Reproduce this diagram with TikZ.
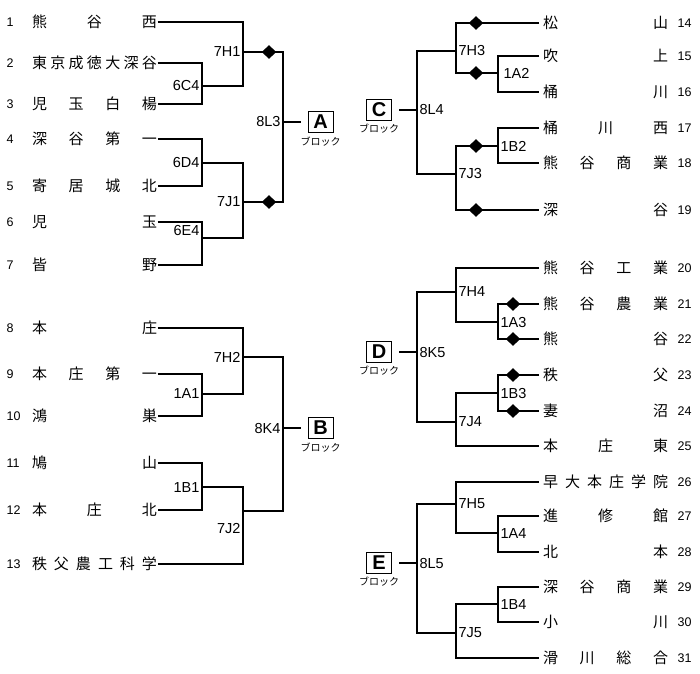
\documentclass[tikz,border=0pt]{standalone}
\usepackage{fontspec}
\setmainfont{Liberation Sans}
\newfontfamily\jpfont{Noto Sans CJK JP}
\usetikzlibrary{shapes.geometric,positioning}
\newcommand{\spreadname}[1]{\makebox[125pt]{\spreadchars#1\relax}}
\def\spreadchars#1#2{#1\ifx\relax#2\else\hfill\expandafter\spreadchars\expandafter#2\fi}

\begin{document}
\begin{tikzpicture}[x=1pt, y=-1pt, line width=1.1pt,
    team/.style={font=\jpfont\fontsize{15}{15}\selectfont, inner sep=0pt},
    rteam/.style={team, outer xsep=4pt},
    num/.style={font=\fontsize{12.5}{12.5}\selectfont, inner sep=0pt, anchor=west},
    lab/.style={font=\fontsize{14.5}{14.5}\selectfont, inner sep=2pt},
    blk/.style={draw, line width=1pt, font=\bfseries\fontsize{20}{20}\selectfont, minimum width=25pt, minimum height=21pt, inner sep=0pt},
    kana/.style={font=\jpfont\fontsize{10}{10}\selectfont, inner sep=0pt},
    dia/.style={diamond, fill=black, inner sep=0pt, minimum width=15pt, minimum height=14pt},
    toblk/.style={shorten >=7pt}]
    \useasboundingbox (0,0) rectangle (700,673);

    % Left teams
    \node[num] (n1) at (6,22) {1};    \node[team] (t1) at (94.5,22) {\spreadname{熊谷西}};
    \node[num] (n2) at (6,63) {2};    \node[team] (t2) at (94.5,63) {\spreadname{東京成徳大深谷}};
    \node[num] (n3) at (6,104) {3};   \node[team] (t3) at (94.5,104) {\spreadname{児玉白楊}};
    \node[num] (n4) at (6,139) {4};   \node[team] (t4) at (94.5,139) {\spreadname{深谷第一}};
    \node[num] (n5) at (6,186) {5};   \node[team] (t5) at (94.5,186) {\spreadname{寄居城北}};
    \node[num] (n6) at (6,222) {6};   \node[team] (t6) at (94.5,222) {\spreadname{児玉}};
    \node[num] (n7) at (6,265) {7};   \node[team] (t7) at (94.5,265) {\spreadname{皆野}};
    \node[num] (n8) at (6,328) {8};   \node[team] (t8) at (94.5,328) {\spreadname{本庄}};
    \node[num] (n9) at (6,374) {9};   \node[team] (t9) at (94.5,374) {\spreadname{本庄第一}};
    \node[num] (n10) at (6,416) {10}; \node[team] (t10) at (94.5,416) {\spreadname{鴻巣}};
    \node[num] (n11) at (6,463) {11}; \node[team] (t11) at (94.5,463) {\spreadname{鳩山}};
    \node[num] (n12) at (6,510) {12}; \node[team] (t12) at (94.5,510) {\spreadname{本庄北}};
    \node[num] (n13) at (6,564) {13}; \node[team] (t13) at (94.5,564) {\spreadname{秩父農工科学}};

    % Right teams
    \node[rteam] (t14) at (605.5,23) {\spreadname{松山}};        \node[num] (n14) at (677,23) {14};
    \node[rteam] (t15) at (605.5,56) {\spreadname{吹上}};        \node[num] (n15) at (677,56) {15};
    \node[rteam] (t16) at (605.5,92) {\spreadname{桶川}};        \node[num] (n16) at (677,92) {16};
    \node[rteam] (t17) at (605.5,128) {\spreadname{桶川西}};     \node[num] (n17) at (677,128) {17};
    \node[rteam] (t18) at (605.5,163) {\spreadname{熊谷商業}};   \node[num] (n18) at (677,163) {18};
    \node[rteam] (t19) at (605.5,210) {\spreadname{深谷}};       \node[num] (n19) at (677,210) {19};
    \node[rteam] (t20) at (605.5,268) {\spreadname{熊谷工業}};   \node[num] (n20) at (677,268) {20};
    \node[rteam] (t21) at (605.5,304) {\spreadname{熊谷農業}};   \node[num] (n21) at (677,304) {21};
    \node[rteam] (t22) at (605.5,339) {\spreadname{熊谷}};       \node[num] (n22) at (677,339) {22};
    \node[rteam] (t23) at (605.5,375) {\spreadname{秩父}};       \node[num] (n23) at (677,375) {23};
    \node[rteam] (t24) at (605.5,411) {\spreadname{妻沼}};       \node[num] (n24) at (677,411) {24};
    \node[rteam] (t25) at (605.5,446) {\spreadname{本庄東}};     \node[num] (n25) at (677,446) {25};
    \node[rteam] (t26) at (605.5,482) {\spreadname{早大本庄学院}}; \node[num] (n26) at (677,482) {26};
    \node[rteam] (t27) at (605.5,516) {\spreadname{進修館}};     \node[num] (n27) at (677,516) {27};
    \node[rteam] (t28) at (605.5,552) {\spreadname{北本}};       \node[num] (n28) at (677,552) {28};
    \node[rteam] (t29) at (605.5,587) {\spreadname{深谷商業}};   \node[num] (n29) at (677,587) {29};
    \node[rteam] (t30) at (605.5,622) {\spreadname{小川}};       \node[num] (n30) at (677,622) {30};
    \node[rteam] (t31) at (605.5,658) {\spreadname{滑川総合}};   \node[num] (n31) at (677,658) {31};

    % Match points
    \coordinate (m6C4) at (202,86);   \coordinate (m7H1) at (243,52);
    \coordinate (m6D4) at (202,163);  \coordinate (m6E4) at (202,238);
    \coordinate (m7J1) at (243,202);  \coordinate (m8L3) at (283,122);
    \coordinate (m1A1) at (202,394);  \coordinate (m7H2) at (243,357);
    \coordinate (m1B1) at (202,487);  \coordinate (m7J2) at (243,511);
    \coordinate (m8K4) at (283,428);
    \coordinate (m7H3) at (456,51);   \coordinate (m1A2) at (498,73);
    \coordinate (m1B2) at (498,146);  \coordinate (m7J3) at (456,174);
    \coordinate (m8L4) at (417,110);
    \coordinate (m7H4) at (456,292);  \coordinate (m1A3) at (498,322);
    \coordinate (m1B3) at (498,393);  \coordinate (m7J4) at (456,422);
    \coordinate (m8K5) at (417,352);
    \coordinate (m7H5) at (456,504);  \coordinate (m1A4) at (498,533);
    \coordinate (m1B4) at (498,604);  \coordinate (m7J5) at (456,633);
    \coordinate (m8L5) at (417,563);

    % Blocks
    \node[blk] (bA) at (320.5,122) {A};  \node[kana, below=3pt of bA] (kA) {ブロック};
    \node[blk] (bB) at (320.5,428) {B};  \node[kana, below=3pt of bB] (kB) {ブロック};
    \node[blk] (bC) at (379,110) {C};    \node[kana, below=2pt of bC] (kC) {ブロック};
    \node[blk] (bD) at (379,352) {D};    \node[kana, below=2pt of bD] (kD) {ブロック};
    \node[blk] (bE) at (379,563) {E};    \node[kana, below=2pt of bE] (kE) {ブロック};

    % Block A
    \draw (t2.east) -| (m6C4) |- (t3.east);
    \draw (t1.east) -| (m7H1) |- (m6C4);
    \draw (t4.east) -| (m6D4) |- (t5.east);
    \draw (t6.east) -| (m6E4) |- (t7.east);
    \draw (m6D4) -| (m7J1) |- (m6E4);
    \draw (m7H1) -| (m8L3) |- (m7J1);
    \draw[toblk] (m8L3) -- (bA);

    % Block B
    \draw (t9.east) -| (m1A1) |- (t10.east);
    \draw (t8.east) -| (m7H2) |- (m1A1);
    \draw (t11.east) -| (m1B1) |- (t12.east);
    \draw (m1B1) -| (m7J2) |- (t13.east);
    \draw (m7H2) -| (m8K4) |- (m7J2);
    \draw[toblk] (m8K4) -- (bB);

    % Block C
    \draw (t15.west) -| (m1A2) |- (t16.west);
    \draw (t14.west) -| (m7H3) |- (m1A2);
    \draw (t17.west) -| (m1B2) |- (t18.west);
    \draw (m1B2) -| (m7J3) |- (t19.west);
    \draw (m7H3) -| (m8L4) |- (m7J3);
    \draw[toblk] (m8L4) -- (bC);

    % Block D
    \draw (t21.west) -| (m1A3) |- (t22.west);
    \draw (t20.west) -| (m7H4) |- (m1A3);
    \draw (t23.west) -| (m1B3) |- (t24.west);
    \draw (m1B3) -| (m7J4) |- (t25.west);
    \draw (m7H4) -| (m8K5) |- (m7J4);
    \draw[toblk] (m8K5) -- (bD);

    % Block E
    \draw (t27.west) -| (m1A4) |- (t28.west);
    \draw (t26.west) -| (m7H5) |- (m1A4);
    \draw (t29.west) -| (m1B4) |- (t30.west);
    \draw (m1B4) -| (m7J5) |- (t31.west);
    \draw (m7H5) -| (m8L5) |- (m7J5);
    \draw[toblk] (m8L5) -- (bE);

    % Diamonds
    \node[dia] (d1) at (269,52) {};   \node[dia] (d2) at (269,202) {};
    \node[dia] (d3) at (476,23) {};   \node[dia] (d4) at (476,73) {};
    \node[dia] (d5) at (476,146) {};  \node[dia] (d6) at (476,210) {};
    \node[dia] (d7) at (513,304) {};  \node[dia] (d8) at (513,339) {};
    \node[dia] (d9) at (513,375) {};  \node[dia] (d10) at (513,411) {};

    % Match labels
    \node[lab, left] (l6C4) at (m6C4) {6C4};
    \node[lab, left] (l7H1) at (m7H1) {7H1};
    \node[lab, left] (l6D4) at (m6D4) {6D4};
    \node[lab, left, yshift=8pt] (l6E4) at (m6E4) {6E4};
    \node[lab, left] (l7J1) at (m7J1) {7J1};
    \node[lab, left] (l8L3) at (m8L3) {8L3};
    \node[lab, left] (l1A1) at (m1A1) {1A1};
    \node[lab, left] (l7H2) at (m7H2) {7H2};
    \node[lab, left] (l1B1) at (m1B1) {1B1};
    \node[lab, left, yshift=-17pt] (l7J2) at (m7J2) {7J2};
    \node[lab, left] (l8K4) at (m8K4) {8K4};
    \node[lab, right] (l7H3) at (m7H3) {7H3};
    \node[lab, right, xshift=3pt] (l1A2) at (m1A2) {1A2};
    \node[lab, right] (l1B2) at (m1B2) {1B2};
    \node[lab, right] (l7J3) at (m7J3) {7J3};
    \node[lab, right] (l8L4) at (m8L4) {8L4};
    \node[lab, right] (l7H4) at (m7H4) {7H4};
    \node[lab, right] (l1A3) at (m1A3) {1A3};
    \node[lab, right] (l1B3) at (m1B3) {1B3};
    \node[lab, right] (l7J4) at (m7J4) {7J4};
    \node[lab, right] (l8K5) at (m8K5) {8K5};
    \node[lab, right] (l7H5) at (m7H5) {7H5};
    \node[lab, right] (l1A4) at (m1A4) {1A4};
    \node[lab, right] (l1B4) at (m1B4) {1B4};
    \node[lab, right] (l7J5) at (m7J5) {7J5};
    \node[lab, right] (l8L5) at (m8L5) {8L5};
\end{tikzpicture}
\end{document}
